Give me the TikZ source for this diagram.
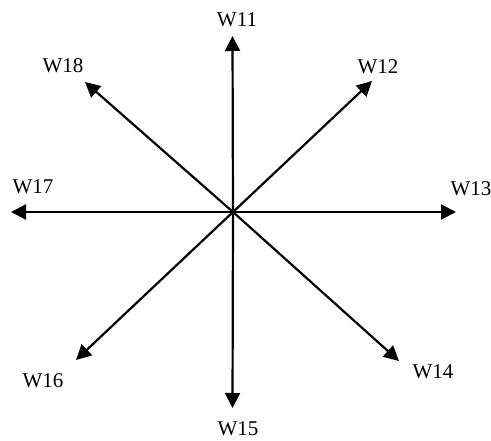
\documentclass[tikz,border=0pt]{standalone}
\usepackage{fontspec}
\setmainfont{Liberation Serif}
\usetikzlibrary{arrows.meta}
\begin{document}
\begin{tikzpicture}[x=1pt,y=-1pt,
  vec/.style={line width=2.2pt,-{Triangle[length=15pt,width=15pt]}},
  lbl/.style={font=\fontsize{21}{24}\selectfont,inner sep=0pt}]
\useasboundingbox (0,0) rectangle (491,441);
\coordinate (c) at (233,212);
\coordinate (e1) at (232.5,36);
\coordinate (e2) at (372,81);
\coordinate (e3) at (456,212);
\coordinate (e4) at (399,361);
\coordinate (e5) at (232.5,408);
\coordinate (e6) at (76,360);
\coordinate (e7) at (11,212);
\coordinate (e8) at (85,82);
\foreach \i in {1,...,8} {\draw[vec] (c) -- (e\i);}
\node[lbl] (w11) at (237,20) {W11};
\node[lbl] (w12) at (378,67) {W12};
\node[lbl] (w13) at (471,189) {W13};
\node[lbl] (w14) at (433,372) {W14};
\node[lbl] (w15) at (238,429) {W15};
\node[lbl] (w16) at (43,381) {W16};
\node[lbl] (w17) at (33,187) {W17};
\node[lbl] (w18) at (63,66) {W18};
\end{tikzpicture}
\end{document}
